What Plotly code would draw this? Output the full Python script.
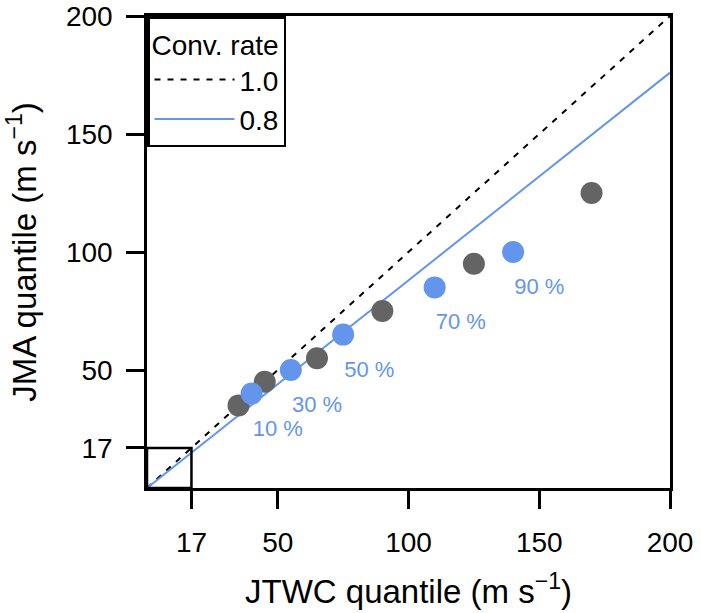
import plotly.graph_objects as go

# ---- data ----
gray_x = [35, 45, 65, 90, 125, 170]
gray_y = [35, 45, 55, 75, 95, 125]
blue_x = [40, 55, 75, 110, 140]
blue_y = [40, 50, 65, 85, 100]
pct_labels = ["10 %", "30 %", "50 %", "70 %", "90 %"]
label_dx = 10
label_dy = -15.5

ref_line = [0, 200]
rate_1 = 1.0
rate_2 = 0.88
legend_names = ["1.0", "0.8"]
tick_vals = [17, 50, 100, 150, 200]
thresh = 17
ax_range = [0, 200]

BLUE = "#6495ED"
GRAY = "#646464"
FONT = "Liberation Sans, Arial, sans-serif"

fig = go.Figure()
fig.add_trace(go.Scatter(x=ref_line, y=[v * rate_1 for v in ref_line], mode="lines",
                         name=legend_names[0],
                         line=dict(color="black", width=2, dash="6px,7px")))
fig.add_trace(go.Scatter(x=ref_line, y=[v * rate_2 for v in ref_line], mode="lines",
                         name=legend_names[1],
                         line=dict(color=BLUE, width=2)))
fig.add_trace(go.Scatter(x=gray_x, y=gray_y, mode="markers", showlegend=False,
                         marker=dict(color=GRAY, size=22, line=dict(width=0))))
fig.add_trace(go.Scatter(x=blue_x, y=blue_y, mode="markers", showlegend=False,
                         marker=dict(color=BLUE, size=22, line=dict(width=0))))
fig.add_trace(go.Scatter(x=[v + label_dx for v in blue_x], y=[v + label_dy for v in blue_y],
                         mode="text", text=pct_labels, showlegend=False,
                         textfont=dict(color=BLUE, size=22, family=FONT)))

fig.add_shape(type="rect", x0=0, y0=0, x1=thresh, y1=thresh, xref="x", yref="y",
              line=dict(color="black", width=2.5))

axis_common = dict(range=ax_range, tickvals=tick_vals, showgrid=False, zeroline=False,
                   showline=True, mirror=True, linecolor="black", linewidth=2.5,
                   ticks="outside", ticklen=18, tickwidth=2.5, tickcolor="black",
                   automargin=False,
                   tickfont=dict(size=28, family=FONT, color="black"))

fig.update_layout(
    width=701, height=613,
    margin=dict(l=147, r=31, t=16, b=125),
    plot_bgcolor="white", paper_bgcolor="white",
    font=dict(family=FONT, color="black"),
    xaxis=dict(**axis_common, ticklabelstandoff=10,
               title=dict(text="JTWC quantile (m s<sup>\u22121</sup>)",
                          font=dict(size=33, family=FONT), standoff=23)),
    yaxis=dict(**axis_common, ticklabelstandoff=8,
               title=dict(text="JMA quantile (m s<sup>\u22121</sup>)",
                          font=dict(size=33, family=FONT), standoff=20)),
    legend=dict(x=0, y=1, xanchor="left", yanchor="top", bgcolor="white",
                bordercolor="black", borderwidth=2.5, itemwidth=80,
                font=dict(size=28, family=FONT),
                title=dict(text="Conv. rate", font=dict(size=28, family=FONT)),
                tracegroupgap=0),
    showlegend=True,
)

fig.write_html("out.html", config={"displayModeBar": False},
               post_script="document.body.style.margin='0';document.body.style.overflow='hidden';")
